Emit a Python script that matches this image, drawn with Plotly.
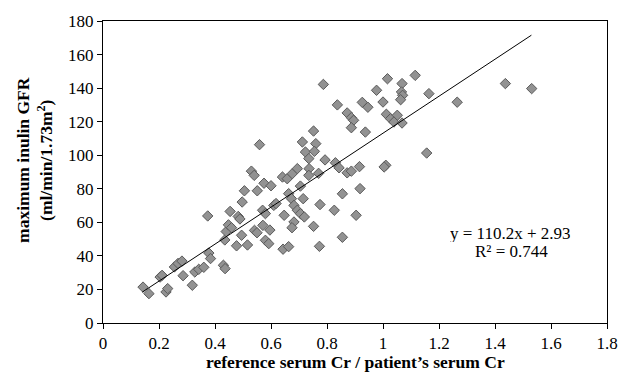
import plotly.graph_objects as go

# Data
ratio = [0.143, 0.164, 0.204, 0.211, 0.225, 0.231, 0.255, 0.268, 0.282, 0.286,
         0.319, 0.328, 0.342, 0.360, 0.378, 0.384, 0.374, 0.430, 0.436, 0.435,
         0.440, 0.448, 0.459, 0.454, 0.483, 0.489, 0.477, 0.495, 0.516, 0.497,
         0.505, 0.551, 0.530, 0.540, 0.541, 0.550, 0.559, 0.571, 0.596, 0.575,
         0.600, 0.570, 0.580, 0.610, 0.618, 0.580, 0.592, 0.643, 0.663, 0.641,
         0.658, 0.676, 0.694, 0.663, 0.673, 0.647, 0.682, 0.675, 0.682, 0.694,
         0.705, 0.719, 0.705, 0.715, 0.712, 0.760, 0.752, 0.723, 0.735, 0.755,
         0.793, 0.736, 0.735, 0.770, 0.752, 0.775, 0.773, 0.787, 0.830, 0.843,
         0.872, 0.887, 0.916, 0.826, 0.855, 0.855, 0.904, 0.918, 0.837, 0.872,
         0.887, 0.895, 0.887, 0.926, 0.946, 0.937, 0.977, 1.000, 1.016, 1.068,
         1.066, 1.070, 1.063, 1.115, 1.164, 1.012, 1.027, 1.051, 1.039, 1.068,
         1.156, 1.010, 1.004, 1.265, 1.437, 1.531]
gfr = [21.4, 17.5, 27.4, 28.4, 18.5, 20.5, 33.4, 35.5, 36.9, 28.2,
       22.5, 30.4, 32.0, 33.2, 41.7, 38.4, 63.8, 34.4, 32.4, 49.5,
       54.5, 58.5, 56.8, 66.5, 63.5, 62.0, 46.0, 52.3, 46.5, 72.1,
       78.8, 78.8, 90.5, 88.0, 55.2, 53.8, 106.3, 58.2, 55.4, 83.3,
       81.8, 67.2, 65.2, 70.1, 71.2, 49.3, 47.3, 44.0, 45.5, 87.0,
       86.0, 89.0, 92.0, 77.1, 74.1, 64.2, 60.2, 56.8, 70.1, 67.2,
       65.2, 63.2, 81.6, 74.1, 107.9, 106.9, 114.4, 101.9, 98.0, 102.3,
       97.2, 92.0, 88.0, 89.2, 57.6, 70.6, 45.7, 142.2, 95.5, 92.5,
       89.5, 90.5, 93.2, 67.2, 77.0, 51.1, 64.2, 80.1, 130.0, 125.2,
       122.4, 120.8, 116.4, 131.5, 128.6, 113.8, 138.7, 131.7, 145.6, 142.7,
       137.7, 135.7, 133.1, 147.6, 136.7, 124.4, 121.8, 123.8, 119.8, 119.2,
       101.3, 94.0, 93.0, 131.6, 142.7, 139.7]

slope = 110.2
intercept = 2.93
r_squared = 0.744
fit_range = [0.14, 1.53]
fit_y = [slope * v + intercept for v in fit_range]

x_ticks = [0, 0.2, 0.4, 0.6, 0.8, 1, 1.2, 1.4, 1.6, 1.8]
y_ticks = [0, 20, 40, 60, 80, 100, 120, 140, 160, 180]

FONT = "Liberation Serif, Times New Roman, serif"

fig = go.Figure()
fig.add_trace(go.Scatter(
    x=ratio, y=gfr, mode="markers",
    marker=dict(symbol="diamond", size=8, color="#929292",
                line=dict(color="#5a5a5a", width=1)),
    showlegend=False, hoverinfo="skip"))
fig.add_trace(go.Scatter(
    x=fit_range, y=fit_y, mode="lines",
    line=dict(color="black", width=1),
    showlegend=False, hoverinfo="skip"))

axis_common = dict(showgrid=False, zeroline=False, showline=True,
                   linecolor="black", linewidth=1, mirror=True,
                   ticks="outside", ticklen=5, tickcolor="black",
                   tickfont=dict(family=FONT, size=17, color="black"))

fig.update_xaxes(range=[0, 1.8], tickvals=x_ticks,
                 ticktext=[f"{t:g}" for t in x_ticks], **axis_common)
fig.update_yaxes(range=[0, 180], tickvals=y_ticks,
                 ticktext=[str(t) for t in y_ticks], **axis_common)

fig.add_annotation(xref="paper", yref="paper", x=0.5, y=-0.13,
                   xanchor="center", yanchor="middle", showarrow=False,
                   text="<b>reference serum Cr / patient’s serum Cr</b>",
                   font=dict(family=FONT, size=17.5, color="black"))
fig.add_annotation(xref="paper", yref="paper", x=-0.1356, y=0.539,
                   xanchor="center", yanchor="middle", showarrow=False,
                   textangle=-90,
                   text="<b>maximum inulin GFR<br>(ml/min/1.73m<sup>2</sup>)</b>",
                   font=dict(family=FONT, size=17.5, color="black"))
fig.add_annotation(xref="x", yref="y", x=1.456, y=53.5,
                   xanchor="center", yanchor="middle", showarrow=False,
                   height=17, valign="middle",
                   text=f"y = {slope}x + {intercept}",
                   font=dict(family=FONT, size=17, color="black"))
fig.add_annotation(xref="x", yref="y", x=1.458, y=42.7,
                   xanchor="center", yanchor="middle", showarrow=False,
                   height=17, valign="middle",
                   text=f"R² = {r_squared}",
                   font=dict(family=FONT, size=17, color="black"))

fig.update_layout(width=630, height=376,
                  margin=dict(l=102.5, r=15, t=20.7, b=53.3),
                  paper_bgcolor="white", plot_bgcolor="white")

fig.write_html("out.html")
